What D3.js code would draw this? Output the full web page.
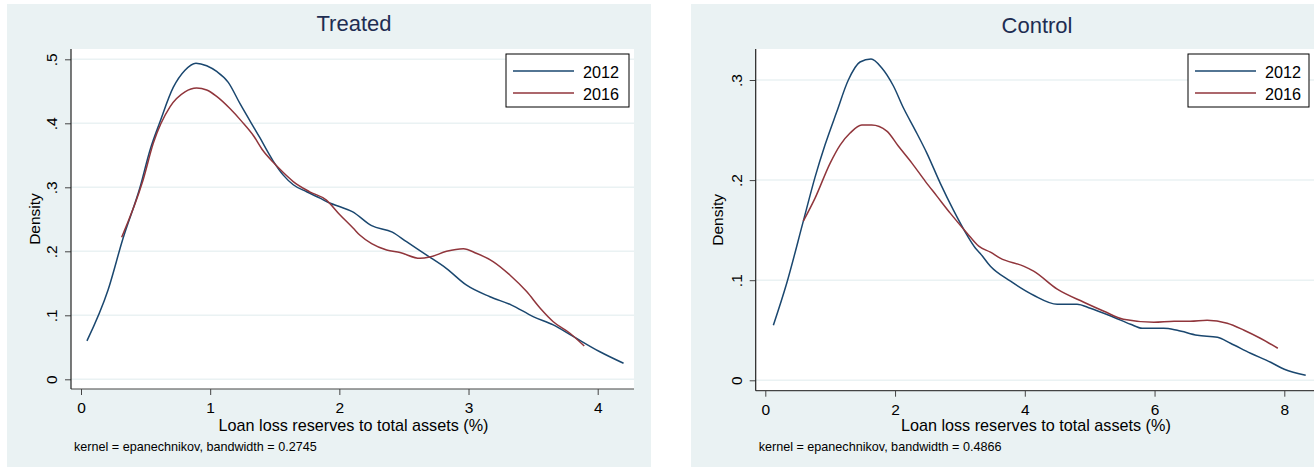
<!DOCTYPE html>
<html>
<head>
<meta charset="utf-8">
<script src="https://cdn.jsdelivr.net/npm/d3@7"></script>
<style>
  body { margin: 0; background: #fff; }
  text { font-family: Arial, "Liberation Sans", sans-serif; }
</style>
</head>
<body>
<script>
// Kernel density estimates: [x, density]
var treated2012 = [
    [0.046, 0.060], [0.21, 0.140], [0.325, 0.220], [0.457, 0.300],
    [0.534, 0.358], [0.611, 0.402], [0.714, 0.456], [0.805, 0.483],
    [0.89, 0.494], [0.973, 0.490], [1.05, 0.481], [1.14, 0.464],
    [1.23, 0.431], [1.38, 0.379], [1.488, 0.341], [1.566, 0.319],
    [1.643, 0.304], [1.747, 0.293], [1.85, 0.283], [1.93, 0.275],
    [2.0, 0.270], [2.1, 0.262], [2.25, 0.240], [2.41, 0.230],
    [2.52, 0.215], [2.676, 0.194], [2.83, 0.173], [2.985, 0.147],
    [3.166, 0.129], [3.333, 0.116], [3.50, 0.098], [3.656, 0.085],
    [3.81, 0.067], [4.017, 0.043], [4.20, 0.025]
];
var treated2016 = [
    [0.315, 0.222], [0.48, 0.311], [0.56, 0.369], [0.69, 0.426],
    [0.805, 0.449], [0.895, 0.455], [0.973, 0.452], [1.05, 0.442],
    [1.153, 0.423], [1.244, 0.403], [1.334, 0.381], [1.41, 0.357],
    [1.488, 0.339], [1.566, 0.323], [1.643, 0.309], [1.77, 0.293],
    [1.90, 0.280], [2.0, 0.258], [2.108, 0.236], [2.16, 0.225],
    [2.25, 0.212], [2.366, 0.202], [2.47, 0.198], [2.624, 0.189],
    [2.70, 0.191], [2.83, 0.200], [2.96, 0.204], [3.06, 0.197],
    [3.19, 0.184], [3.32, 0.163], [3.45, 0.137], [3.555, 0.111],
    [3.656, 0.090], [3.785, 0.072], [3.896, 0.052]
];
var control2012 = [
    [0.124, 0.055], [0.33, 0.097], [0.586, 0.159], [0.767, 0.203],
    [0.92, 0.235], [1.10, 0.268], [1.28, 0.300], [1.46, 0.318],
    [1.63, 0.321], [1.796, 0.312], [1.975, 0.294], [2.13, 0.272],
    [2.31, 0.250], [2.49, 0.227], [2.696, 0.197], [2.90, 0.170],
    [3.11, 0.145], [3.24, 0.132], [3.31, 0.127], [3.47, 0.114],
    [3.78, 0.099], [4.136, 0.085], [4.50, 0.076], [4.805, 0.076],
    [5.01, 0.072], [5.37, 0.063], [5.63, 0.056], [5.81, 0.052],
    [6.14, 0.052], [6.35, 0.050], [6.66, 0.045], [6.97, 0.043],
    [7.17, 0.037], [7.48, 0.027], [7.79, 0.018], [8.0, 0.011],
    [8.33, 0.005]
];
var control2016 = [
    [0.586, 0.159], [0.767, 0.182], [1.0, 0.217], [1.153, 0.235],
    [1.307, 0.247], [1.487, 0.255], [1.64, 0.255], [1.873, 0.249],
    [2.05, 0.234], [2.26, 0.217], [2.464, 0.199], [2.645, 0.184],
    [2.85, 0.167], [3.11, 0.147], [3.29, 0.134], [3.47, 0.128],
    [3.62, 0.122], [3.98, 0.114], [4.136, 0.109], [4.50, 0.091],
    [4.91, 0.078], [5.22, 0.069], [5.52, 0.061], [5.99, 0.058],
    [6.30, 0.059], [6.55, 0.059], [6.81, 0.060], [7.12, 0.057],
    [7.38, 0.050], [7.63, 0.042], [7.90, 0.032]
];

var seriesNames = ["2012", "2016"];
var xTicksTreated = [0, 1, 2, 3, 4];
var yTicksTreated = [0, 0.1, 0.2, 0.3, 0.4, 0.5];
var xTicksControl = [0, 2, 4, 6, 8];
var yTicksControl = [0, 0.1, 0.2, 0.3];

var colors = ["#1a476f", "#90353b"];
var bgColor = "#eaf2f3";

var svg = d3.select("body").append("svg")
    .attr("width", 1314)
    .attr("height", 471);

function tickFmt(d) {
    return d === 0 ? "0" : d3.format(".1f")(d).replace(/^0/, "");
}

function drawPanel(p) {
    // outer graph region
    svg.append("rect")
        .attr("x", p.bg[0]).attr("y", p.bg[1])
        .attr("width", p.bg[2]).attr("height", p.bg[3])
        .attr("fill", bgColor);

    var x = d3.scaleLinear().domain(p.xDom).range(p.xRange);
    var y = d3.scaleLinear().domain(p.yDom).range(p.yRange);

    // plot region
    svg.append("rect")
        .attr("x", p.left).attr("y", p.top)
        .attr("width", p.right - p.left).attr("height", p.bottom - p.top)
        .attr("fill", "#fff");

    var g = svg.append("g");

    // grid lines
    g.selectAll(".grid").data(p.yTicks).enter().append("line")
        .attr("x1", p.left).attr("x2", p.right)
        .attr("y1", function(d) { return y(d); })
        .attr("y2", function(d) { return y(d); })
        .attr("stroke", bgColor)
        .attr("stroke-width", 1.5);

    // density lines
    var line = d3.line()
        .x(function(d) { return x(d[0]); })
        .y(function(d) { return y(d[1]); })
        .curve(d3.curveMonotoneX);

    p.series.forEach(function(s, i) {
        g.append("path")
            .datum(s)
            .attr("d", line)
            .attr("fill", "none")
            .attr("stroke", colors[i])
            .attr("stroke-width", 1.5);
    });

    // x axis
    var xAxis = svg.append("g")
        .attr("transform", "translate(0," + p.bottom + ")")
        .call(d3.axisBottom(x).tickValues(p.xTicks).tickSize(6)
            .tickPadding(7).tickFormat(d3.format("d")));
    xAxis.select(".domain").remove();
    xAxis.append("line")
        .attr("x1", p.left).attr("x2", p.right)
        .attr("stroke", "#444").attr("stroke-width", 1.2);
    xAxis.selectAll(".tick line").attr("stroke", "#444");
    xAxis.selectAll("text")
        .attr("font-size", 15.5)
        .attr("fill", "#000")
        .attr("font-family", "Arial, 'Liberation Sans', sans-serif");

    // y axis
    var yAxis = svg.append("g")
        .attr("transform", "translate(" + p.left + ",0)")
        .call(d3.axisLeft(y).tickValues(p.yTicks).tickSize(6)
            .tickFormat(tickFmt));
    yAxis.select(".domain").remove();
    yAxis.append("line")
        .attr("y1", p.top).attr("y2", p.bottom)
        .attr("stroke", "#222").attr("stroke-width", 1.2);
    yAxis.selectAll(".tick line").attr("stroke", "#444");
    yAxis.selectAll("text")
        .attr("x", null).attr("dy", "0.35em")
        .attr("transform", "translate(-19,0) rotate(-90)")
        .attr("text-anchor", "middle")
        .attr("font-size", 15.5)
        .attr("fill", "#000")
        .attr("font-family", "Arial, 'Liberation Sans', sans-serif");

    // titles
    svg.append("text")
        .attr("x", p.titleX).attr("y", p.titleY)
        .attr("text-anchor", "middle")
        .attr("font-size", 22)
        .attr("fill", "#1e2d52")
        .text(p.title);

    svg.append("text")
        .attr("x", (p.left + p.titleRight) / 2).attr("y", 430.5)
        .attr("text-anchor", "middle")
        .attr("font-size", 16.2)
        .text("Loan loss reserves to total assets (%)");

    svg.append("text")
        .attr("transform", "translate(" + p.yTitleX + "," +
            ((p.top + p.bottom) / 2) + ") rotate(-90)")
        .attr("dy", "0.35em")
        .attr("text-anchor", "middle")
        .attr("font-size", 15.5)
        .text("Density");

    svg.append("text")
        .attr("x", p.left + 3).attr("y", 451)
        .attr("font-size", 12.6)
        .text(p.caption);

    // legend
    var lg = svg.append("g")
        .attr("transform", "translate(" + p.legend[0] + "," + p.legend[1] + ")");
    lg.append("rect")
        .attr("x", 0).attr("y", 0)
        .attr("width", p.legend[2]).attr("height", 53)
        .attr("fill", "#fff").attr("stroke", "#000").attr("stroke-width", 1);
    seriesNames.forEach(function(n, i) {
        lg.append("line")
            .attr("x1", 7).attr("x2", 68)
            .attr("y1", 17 + i * 22).attr("y2", 17 + i * 22)
            .attr("stroke", colors[i]).attr("stroke-width", 1.5);
        lg.append("text")
            .attr("x", 77).attr("y", 23.5 + i * 22)
            .attr("font-size", 16.2)
            .text(n);
    });
}

drawPanel({
    bg: [7, 4, 644, 463],
    left: 71, right: 634, top: 49, bottom: 389, titleRight: 636,
    xDom: [0, 4], xRange: [81, 597.7],
    yDom: [0, 0.5], yRange: [379.3, 59.3],
    xTicks: xTicksTreated, yTicks: yTicksTreated,
    series: [treated2012, treated2016],
    title: "Treated", titleX: 354, titleY: 31,
    yTitleX: 35,
    caption: "kernel = epanechnikov, bandwidth = 0.2745",
    legend: [506, 54, 123]
});

drawPanel({
    bg: [691, 4, 640, 463],
    left: 755.7, right: 1320, top: 49, bottom: 390.7, titleRight: 1316,
    xDom: [0, 8], xRange: [765.3, 1284.3],
    yDom: [0, 0.3], yRange: [380.3, 80],
    xTicks: xTicksControl, yTicks: yTicksControl,
    series: [control2012, control2016],
    title: "Control", titleX: 1037, titleY: 33,
    yTitleX: 718,
    caption: "kernel = epanechnikov, bandwidth = 0.4866",
    legend: [1188, 54, 121]
});
</script>
</body>
</html>
